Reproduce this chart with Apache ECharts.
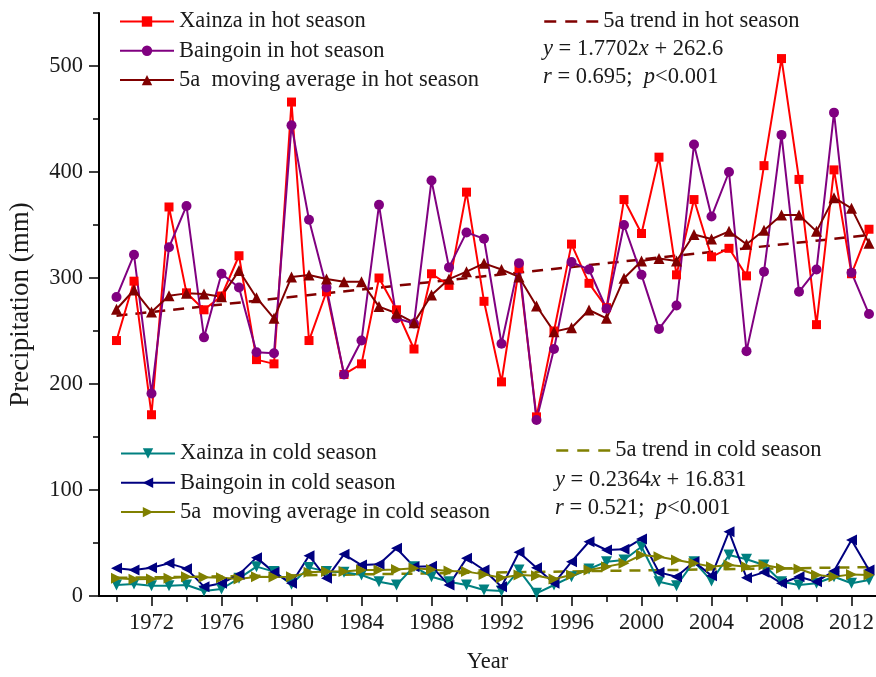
<!DOCTYPE html>
<html>
<head>
<meta charset="utf-8">
<title>Precipitation in hot and cold seasons, Xainza and Baingoin</title>
<script src="https://cdn.jsdelivr.net/npm/echarts@6/dist/echarts.min.js"></script>
<style>
  html, body { margin: 0; padding: 0; background: #ffffff; }
  #chart { width: 876px; height: 677px; }
</style>
</head>
<body>
<div id="chart"></div>
<script>
// ---- data -------------------------------------------------------------
const years = [1970, 1971, 1972, 1973, 1974, 1975, 1976, 1977, 1978, 1979,
               1980, 1981, 1982, 1983, 1984, 1985, 1986, 1987, 1988, 1989,
               1990, 1991, 1992, 1993, 1994, 1995, 1996, 1997, 1998, 1999,
               2000, 2001, 2002, 2003, 2004, 2005, 2006, 2007, 2008, 2009,
               2010, 2011, 2012, 2013];

// hot season precipitation (mm)
const xainzaHot = [241, 297, 171, 367, 286, 270, 283, 321, 223, 219,
                   466, 241, 287, 209, 219, 300, 270, 233, 304, 293,
                   381, 278, 202, 309, 169, 250, 332, 295, 272, 374,
                   342, 414, 303, 374, 320, 328, 302, 406, 507, 393,
                   256, 402, 304, 346];
const baingoinHot = [282, 322, 191, 329, 368, 244, 304, 291, 230, 229,
                     444, 355, 291, 209, 241, 369, 262, 257, 392, 310,
                     343, 337, 238, 314, 166, 233, 315, 308, 271, 350,
                     303, 252, 274, 426, 358, 400, 231, 306, 435, 287,
                     308, 456, 305, 266];
const movingAvgHot = [270.5, 288.7, 268, 283.3, 285.5, 285, 282.4, 307, 281.4, 262,
                      301, 302.8, 299, 296.5, 296.5, 273, 266.7, 257.9, 284, 299,
                      306, 313.8, 308, 301, 273.6, 249.4, 253, 269.8, 262, 299.7,
                      316, 318.5, 316, 341, 336.8, 344, 331.8, 345, 359.4, 359.4,
                      344, 375.8, 365.7, 332.7];

// cold season precipitation (mm)
const xainzaCold = [10.4, 11.3, 9.7, 9.7, 10.4, 4.7, 6.6, 16.7, 27.7, 23,
                    11, 27, 23, 22.3, 19.8, 13.5, 10.4, 27.7, 18.2, 13.5,
                    10.4, 5.7, 4.7, 24.5, 2.5, 10.4, 18.2, 25.5, 32.4, 34,
                    46.5, 13.5, 9.7, 32.4, 14.2, 38.7, 34.6, 29.2, 13.5, 10.4,
                    12, 18.2, 12, 15.1];
const baingoinCold = [26.1, 24.5, 26.7, 30.8, 25.8, 8.8, 12, 20.4, 36.2, 22.3,
                      12, 38, 16.7, 39.3, 29.2, 29.9, 45, 27.7, 28, 10.4,
                      35.5, 24.5, 8.8, 41.2, 26.7, 12, 32.4, 51.2, 43.4, 44,
                      53.8, 22.3, 18.2, 32.4, 19.2, 60.7, 17.3, 22.3, 12, 18.2,
                      13.5, 23.6, 52.8, 24.5];
const movingAvgCold = [16.7, 15.7, 16, 16.7, 18.2, 17.6, 17.3, 16, 18.2, 17.9,
                       18.2, 22.3, 23, 23, 24.5, 24.5, 25, 26.1, 25, 23.6,
                       23, 20.4, 17.3, 19.8, 19.2, 16, 19.8, 24.5, 27.7, 30.8,
                       38.7, 37.1, 34, 30.8, 27.7, 29.2, 27.7, 29.2, 26.1, 25.5,
                       19.8, 18.2, 20.4, 19.8];

// linear trends of the 5a moving averages: end points [year, mm]
const hotTrendEnds = [[1970, 264.4], [2013, 340.5]];
const coldTrendEnds = [[1970, 17.1], [2013, 27.2]];

// axis ticks
const yearLabels = [1972, 1976, 1980, 1984, 1988, 1992, 1996, 2000, 2004, 2008, 2012];
const yearMinorTicks = [1970, 1974, 1978, 1982, 1986, 1990, 1994, 1998, 2002, 2006, 2010];
const valueLabels = [0, 100, 200, 300, 400, 500];
const valueMinorTicks = [50, 150, 250, 350, 450, 550];

// ---- styling ------------------------------------------------------------
const FONT = '"Liberation Serif", "Times New Roman", Times, serif';
const FS = 22.5;
const INK = '#1a1a1a';

const pairs = vals => years.map((y, i) => [y, vals[i]]);

function markedLine(name, vals, color, symbol, size, rotate) {
  return {
    name: name,
    type: 'line',
    data: pairs(vals),
    symbol: symbol,
    symbolSize: size,
    symbolRotate: rotate || 0,
    showAllSymbol: true,
    lineStyle: { color: color, width: 2 },
    itemStyle: { color: color },
    emphasis: { disabled: true },
    animation: false
  };
}

function trendLine(name, ends, color) {
  return {
    name: name,
    type: 'line',
    data: ends,
    symbol: 'none',
    lineStyle: { color: color, width: 2.5, type: [11, 8] },
    itemStyle: { color: color },
    emphasis: { disabled: true },
    animation: false,
    z: 1
  };
}

const legendText = { fontFamily: FONT, fontSize: FS, color: INK, lineHeight: 22 };

// trend entries show a three-dash sample and no marker
function legendBlock(names, left, top, isTrend) {
  return {
    orient: 'vertical',
    left: left,
    top: top,
    padding: 0,
    itemWidth: 54,
    itemHeight: 13,
    itemGap: 6.3,
    selectedMode: false,
    textStyle: legendText,
    data: names.map(n => isTrend
      ? { name: n, itemStyle: { opacity: 0 }, lineStyle: { type: [12, 9], width: 2.5 } }
      : n)
  };
}

function equation(x, y, text) {
  return {
    type: 'text',
    x: x,
    y: y,
    silent: true,
    style: {
      text: text,
      fill: INK,
      fontFamily: FONT,
      fontSize: FS,
      verticalAlign: 'middle',
      rich: {
        i: { fontFamily: FONT, fontSize: FS, fontStyle: 'italic', fill: INK }
      }
    }
  };
}

const axisFont = { fontFamily: FONT, fontSize: FS, color: INK };
const plainNumber = v => String(v);

const option = {
  backgroundColor: '#ffffff',
  animation: false,
  grid: { left: 99, right: 0, top: 13, bottom: 81, containLabel: false, outerBoundsMode: 'none' },
  xAxis: [
    {
      type: 'value', min: 1969, max: 2013.4, position: 'bottom',
      axisLine: { show: true, onZero: false, lineStyle: { color: '#000', width: 2 } },
      axisTick: { show: true, length: 10, customValues: yearLabels, lineStyle: { color: '#000', width: 1.5 } },
      axisLabel: Object.assign({ customValues: yearLabels, margin: 16, formatter: plainNumber }, axisFont),
      splitLine: { show: false },
      name: 'Year', nameLocation: 'middle', nameGap: 55,
      nameTextStyle: axisFont
    },
    {
      type: 'value', min: 1969, max: 2013.4, position: 'bottom',
      axisLine: { show: false },
      axisTick: { show: true, length: 6, customValues: yearMinorTicks, lineStyle: { color: '#000', width: 1.5 } },
      axisLabel: { show: false },
      splitLine: { show: false }
    }
  ],
  yAxis: [
    {
      type: 'value', min: 0, max: 550, interval: 100, position: 'left',
      axisLine: { show: true, onZero: false, lineStyle: { color: '#000', width: 2 } },
      axisTick: { show: true, length: 10, customValues: valueLabels, lineStyle: { color: '#000', width: 1.5 } },
      axisLabel: Object.assign({ customValues: valueLabels, margin: 16, formatter: plainNumber }, axisFont),
      splitLine: { show: false },
      name: 'Precipitation (mm)', nameLocation: 'middle', nameGap: 65,
      nameTextStyle: { fontFamily: FONT, fontSize: 27, color: INK }
    },
    {
      type: 'value', min: 0, max: 550, interval: 50, position: 'left',
      axisLine: { show: false },
      axisTick: { show: true, length: 6, customValues: valueMinorTicks, lineStyle: { color: '#000', width: 1.5 } },
      axisLabel: { show: false },
      splitLine: { show: false }
    }
  ],
  legend: [
    legendBlock(['Xainza in hot season', 'Baingoin in hot season', '5a  moving average in hot season'], 119, 10, false),
    legendBlock(['5a trend in hot season'], 543, 10, true),
    legendBlock(['Xainza in cold season', 'Baingoin in cold season', '5a  moving average in cold season'], 120, 442, false),
    legendBlock(['5a trend in cold season'], 555, 439, true)
  ],
  graphic: [
    equation(543, 49.5, '{i|y} = 1.7702{i|x} + 262.6'),
    equation(543, 77.5, '{i|r} = 0.695;  {i|p}<0.001'),
    equation(555, 480, '{i|y} = 0.2364{i|x} + 16.831'),
    equation(555, 508, '{i|r} = 0.521;  {i|p}<0.001')
  ],
  series: [
    trendLine('5a trend in hot season', hotTrendEnds, '#800000'),
    trendLine('5a trend in cold season', coldTrendEnds, '#808000'),
    markedLine('Xainza in hot season', xainzaHot, '#ff0000', 'rect', 9),
    markedLine('Baingoin in hot season', baingoinHot, '#800080', 'circle', 10),
    markedLine('5a  moving average in hot season', movingAvgHot, '#800000', 'triangle', 11),
    markedLine('Xainza in cold season', xainzaCold, '#008080', 'triangle', 11, 180),
    markedLine('Baingoin in cold season', baingoinCold, '#000080', 'triangle', 11, 90),
    markedLine('5a  moving average in cold season', movingAvgCold, '#808000', 'triangle', 11, -90)
  ]
};

const chart = echarts.init(document.getElementById('chart'), null, { renderer: 'canvas' });
chart.setOption(option);
</script>
</body>
</html>
